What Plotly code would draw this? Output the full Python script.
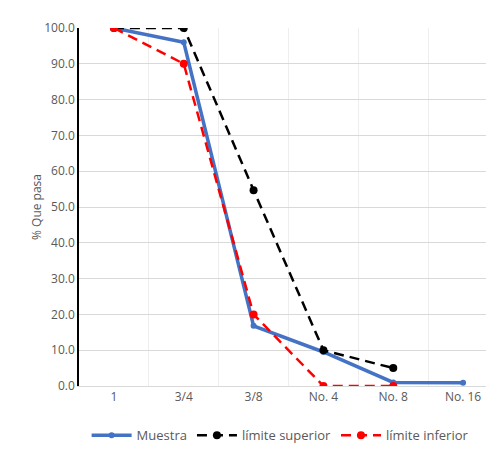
import plotly.graph_objects as go

categories = ["1", "3/4", "3/8", "No. 4", "No. 8", "No. 16"]
muestra = [100.0, 96.0, 16.8, 9.5, 1.0, 0.9]
lim_sup = [100.0, 100.0, 54.7, 10.0, 5.0, None]
lim_inf = [100.0, 90.0, 20.0, 0.0, 0.0, None]
y_ticks = [0, 10, 20, 30, 40, 50, 60, 70, 80, 90, 100]

fig = go.Figure()
fig.add_trace(go.Scatter(x=categories, y=muestra, name="Muestra", mode="lines+markers",
                         line=dict(color="#4472C4", width=3.5),
                         marker=dict(size=6, color="#4472C4")))
fig.add_trace(go.Scatter(x=categories, y=lim_sup, name="límite superior", mode="lines+markers",
                         line=dict(color="black", width=2.5, dash="10px,6px"),
                         marker=dict(size=8, color="black")))
fig.add_trace(go.Scatter(x=categories, y=lim_inf, name="límite inferior", mode="lines+markers",
                         line=dict(color="#FF0000", width=2.5, dash="10px,6px"),
                         marker=dict(size=8, color="#FF0000")))

fig.update_layout(
    width=494, height=450,
    margin=dict(l=71, r=4, t=20, b=72, autoexpand=False),
    plot_bgcolor="white", paper_bgcolor="white",
    font=dict(family="Open Sans", size=12, color="#595959"),
    showlegend=True,
    legend=dict(orientation="h", x=0.48, xanchor="center", y=-0.096, yanchor="top",
                font=dict(size=13, color="#595959"), itemwidth=40),
    xaxis=dict(type="category", range=[-0.5, 5.5], showgrid=True, gridcolor="#EEEEEE",
               tickson="boundaries", ticks="", showline=True, linecolor="#D9D9D9",
               linewidth=1, automargin=False, tickfont=dict(size=12, color="#595959")),
    yaxis=dict(range=[0, 100], tickvals=y_ticks, ticktext=[f"{v:.1f}" for v in y_ticks],
               showgrid=True, gridcolor="#D9D9D9", showline=True, linecolor="black",
               linewidth=1.5, ticks="", zeroline=False, automargin=False,
               title=dict(text="% Que pasa", font=dict(size=12, color="#595959"), standoff=0),
               tickfont=dict(size=12, color="#595959")),
)
fig.write_html("out.html")
